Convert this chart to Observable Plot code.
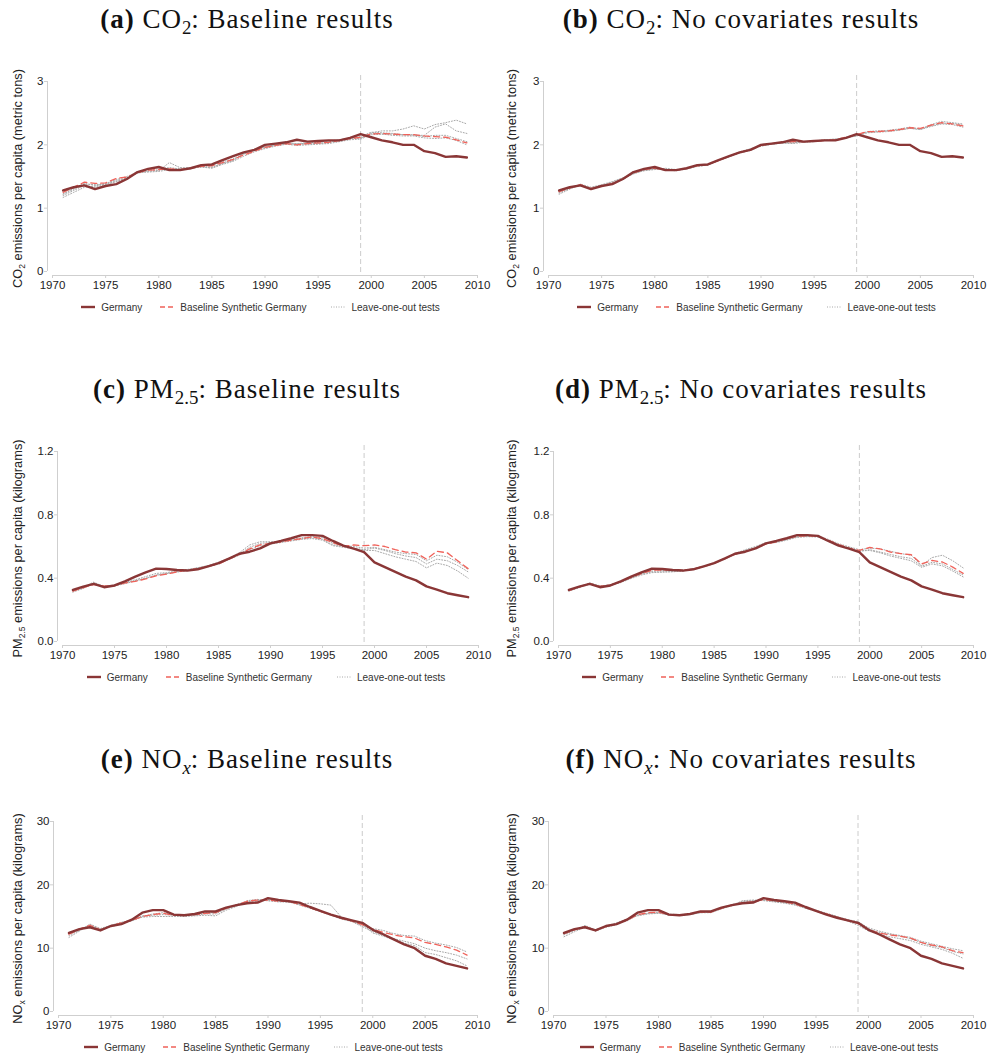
<!DOCTYPE html>
<html><head><meta charset="utf-8">
<script src="https://cdn.jsdelivr.net/npm/d3@7"></script>
<script src="https://cdn.jsdelivr.net/npm/@observablehq/plot@0.6"></script>
<style>
body{margin:0;background:#fff;}
#page{position:relative;width:988px;height:1054px;overflow:hidden;background:#fff;}
.panel{position:absolute;width:494px;height:370px;}
.title{position:absolute;left:0;top:6px;width:494px;text-align:center;font-family:"Liberation Serif","Times New Roman",serif;font-size:27px;line-height:27px;letter-spacing:1px;color:#111;white-space:nowrap;}
.title sub{font-size:70%;vertical-align:baseline;position:relative;top:0.3em;letter-spacing:0;}
.plot{position:absolute;left:0;top:60px;}
.legend{position:absolute;top:300px;height:14px;display:flex;justify-content:center;align-items:center;font-family:"Liberation Sans",Arial,sans-serif;font-size:10px;color:#333;white-space:nowrap;}
.item{display:flex;align-items:center;}
.item svg{margin-right:6px;}
</style></head>
<body><div id="page"></div>
<script>
// ---------- data ----------
const years = d3.range(1971, 2010);
const xDomain = [1970, 2010];
const xTicks = [1970, 1975, 1980, 1985, 1990, 1995, 2000, 2005, 2010];
const treatYear = 1999;

const yDomainCO2 = [0, 3];
const yTicksCO2 = [0, 1, 2, 3];
const yDomainPM = [0, 1.2];
const yTicksPM = [0, 0.4, 0.8, 1.2];
const yDomainNOx = [0, 30];
const yTicksNOx = [0, 10, 20, 30];

const legendLabels = ["Germany", "Baseline Synthetic Germany", "Leave-one-out tests"];

// CO2 (metric tons per capita)
const germanyCO2 = [1.28,1.33,1.36,1.30,1.35,1.38,1.46,1.57,1.62, 1.65,1.60,1.60,1.63,1.68,1.69,1.76,1.82,1.88,1.92, 2.00,2.02,2.04,2.08,2.05,2.06,2.07,2.07,2.11,2.17, 2.12,2.07,2.04,2.00,2.00,1.90,1.87,1.81,1.82,1.80];
const synthCO2a = [1.25,1.33,1.41,1.39,1.40,1.47,1.49,1.56,1.60, 1.61,1.62,1.61,1.63,1.66,1.67,1.72,1.77,1.84,1.90, 1.96,1.99,2.02,2.00,2.02,2.03,2.04,2.07,2.10,2.12, 2.17,2.18,2.17,2.16,2.16,2.14,2.13,2.12,2.08,2.03];
const looCO2a1 = [1.17,1.25,1.33,1.35,1.38,1.42,1.48,1.55,1.59, 1.59,1.72,1.64,1.63,1.65,1.64,1.71,1.76,1.85,1.92, 1.97,2.00,2.02,2.01,2.03,2.02,2.05,2.07,2.11,2.10, 2.19,2.22,2.22,2.25,2.30,2.25,2.32,2.35,2.39,2.33];
const looCO2a2 = [1.22,1.30,1.38,1.37,1.38,1.44,1.47,1.57,1.58, 1.60,1.63,1.62,1.62,1.66,1.65,1.70,1.75,1.87,1.93, 1.95,1.99,2.01,2.01,2.01,2.02,2.03,2.08,2.09,2.11, 2.18,2.17,2.17,2.16,2.15,2.15,2.28,2.33,2.22,2.18];
const looCO2a3 = [1.20,1.28,1.36,1.33,1.37,1.42,1.46,1.56,1.57, 1.58,1.61,1.63,1.64,1.65,1.63,1.69,1.74,1.82,1.89, 1.94,1.98,2.01,1.99,2.00,2.01,2.02,2.05,2.08,2.09, 2.16,2.17,2.15,2.14,2.14,2.11,2.10,2.11,2.07,2.00];
const looCO2a4 = [1.23,1.31,1.39,1.36,1.39,1.45,1.50,1.57,1.61, 1.62,1.64,1.62,1.64,1.67,1.68,1.73,1.78,1.86,1.91, 1.97,2.00,2.03,2.02,2.03,2.04,2.06,2.08,2.11,2.13, 2.20,2.19,2.18,2.16,2.16,2.13,2.15,2.15,2.10,2.05];
const synthCO2b = [1.26,1.32,1.37,1.31,1.35,1.39,1.46,1.56,1.61, 1.63,1.61,1.60,1.63,1.67,1.69,1.75,1.82,1.88,1.92, 1.99,2.02,2.04,2.05,2.05,2.06,2.07,2.08,2.12,2.16, 2.21,2.21,2.22,2.24,2.27,2.26,2.31,2.35,2.33,2.30];
const looCO2b1 = [1.22,1.30,1.38,1.33,1.37,1.42,1.48,1.55,1.59, 1.61,1.63,1.61,1.62,1.66,1.68,1.75,1.81,1.89,1.94, 1.98,2.01,2.03,2.03,2.05,2.06,2.08,2.09,2.12,2.14, 2.20,2.21,2.23,2.25,2.28,2.25,2.32,2.37,2.35,2.33];
const looCO2b2 = [1.24,1.31,1.36,1.32,1.36,1.41,1.47,1.54,1.60, 1.62,1.62,1.60,1.62,1.67,1.69,1.76,1.82,1.88,1.93, 1.99,2.01,2.03,2.02,2.04,2.06,2.08,2.09,2.11,2.14, 2.19,2.20,2.21,2.23,2.26,2.24,2.29,2.33,2.32,2.28];
const looCO2b3 = [1.25,1.33,1.37,1.31,1.35,1.40,1.45,1.55,1.60, 1.62,1.60,1.59,1.62,1.66,1.68,1.76,1.81,1.87,1.91, 1.98,2.01,2.03,2.04,2.04,2.05,2.07,2.08,2.11,2.15, 2.21,2.22,2.22,2.24,2.26,2.25,2.30,2.34,2.34,2.31];

// PM2.5 (kilograms per capita)
const germanyPM = [0.326,0.347,0.364,0.343,0.354,0.380,0.410,0.437,0.460, 0.458,0.452,0.448,0.456,0.475,0.495,0.524,0.554,0.567,0.588, 0.620,0.635,0.652,0.672,0.672,0.667,0.635,0.605,0.586,0.565, 0.500,0.470,0.440,0.410,0.386,0.348,0.328,0.305,0.292,0.280];
const synthPMc = [0.318,0.340,0.360,0.350,0.353,0.370,0.380,0.395,0.415, 0.425,0.440,0.450,0.460,0.475,0.490,0.520,0.550,0.585,0.610, 0.620,0.630,0.640,0.650,0.660,0.650,0.625,0.600,0.610,0.605, 0.610,0.600,0.580,0.565,0.560,0.520,0.570,0.560,0.510,0.460];
const looPMc1 = [0.315,0.345,0.375,0.345,0.350,0.372,0.390,0.410,0.430, 0.435,0.445,0.455,0.465,0.480,0.500,0.525,0.560,0.610,0.630, 0.630,0.630,0.640,0.650,0.655,0.645,0.610,0.600,0.590,0.580, 0.590,0.575,0.555,0.540,0.530,0.490,0.520,0.510,0.480,0.440];
const looPMc2 = [0.320,0.338,0.365,0.352,0.355,0.368,0.385,0.400,0.420, 0.430,0.442,0.452,0.466,0.478,0.495,0.522,0.552,0.595,0.620, 0.625,0.635,0.645,0.655,0.662,0.655,0.620,0.605,0.600,0.590, 0.595,0.580,0.565,0.555,0.550,0.510,0.545,0.535,0.500,0.455];
const looPMc3 = [0.312,0.335,0.370,0.348,0.350,0.365,0.382,0.398,0.418, 0.428,0.438,0.448,0.462,0.472,0.488,0.518,0.545,0.580,0.605, 0.615,0.625,0.635,0.645,0.650,0.640,0.605,0.595,0.585,0.575, 0.575,0.555,0.535,0.520,0.505,0.465,0.495,0.480,0.445,0.400];
const synthPMd = [0.322,0.345,0.365,0.348,0.356,0.378,0.405,0.430,0.450, 0.452,0.450,0.450,0.458,0.474,0.494,0.522,0.550,0.570,0.590, 0.615,0.630,0.650,0.665,0.668,0.665,0.640,0.612,0.590,0.575, 0.594,0.585,0.565,0.555,0.548,0.490,0.512,0.502,0.470,0.430];
const looPMd1 = [0.320,0.342,0.370,0.350,0.358,0.375,0.400,0.425,0.440, 0.440,0.440,0.445,0.460,0.476,0.496,0.525,0.555,0.580,0.600, 0.625,0.628,0.645,0.662,0.665,0.668,0.645,0.618,0.598,0.580, 0.590,0.585,0.570,0.555,0.545,0.480,0.530,0.545,0.510,0.465];
const looPMd2 = [0.318,0.340,0.362,0.346,0.354,0.372,0.398,0.420,0.435, 0.438,0.442,0.446,0.455,0.472,0.492,0.520,0.548,0.572,0.595, 0.620,0.625,0.640,0.658,0.662,0.660,0.635,0.610,0.585,0.570, 0.580,0.565,0.550,0.535,0.525,0.475,0.500,0.490,0.455,0.420];
const looPMd3 = [0.325,0.348,0.368,0.352,0.356,0.380,0.402,0.428,0.445, 0.448,0.446,0.448,0.456,0.475,0.495,0.523,0.552,0.575,0.592, 0.618,0.632,0.648,0.660,0.666,0.662,0.638,0.612,0.590,0.572, 0.575,0.560,0.540,0.525,0.510,0.468,0.490,0.478,0.445,0.408];

// NOx (kilograms per capita)
const germanyNOx = [12.4,13.0,13.3,12.8,13.5,13.8,14.5,15.6,16.0, 16.0,15.3,15.2,15.4,15.8,15.8,16.4,16.8,17.1,17.2, 17.9,17.6,17.4,17.2,16.5,15.9,15.3,14.8,14.4,14.0, 12.9,12.2,11.4,10.6,10.0,8.8,8.3,7.6,7.2,6.8];
const synthNOxe = [12.2,13.0,13.6,12.9,13.5,14.0,14.4,15.0,15.3, 15.5,15.2,15.2,15.3,15.5,15.6,16.3,16.8,17.4,17.6, 17.6,17.4,17.4,16.9,16.4,15.8,15.3,14.7,14.3,13.7, 13.0,12.5,12.1,11.8,11.6,10.9,10.6,10.2,9.7,8.9];
const looNOxe1 = [11.7,12.7,13.8,13.1,13.6,14.1,14.3,14.9,15.0, 15.0,15.0,15.0,15.1,15.2,15.1,16.0,16.6,17.5,17.7, 17.5,17.4,17.3,17.0,17.1,17.0,16.8,14.9,14.3,13.5, 13.1,12.8,12.3,12.0,11.9,11.2,10.8,10.5,10.1,9.4];
const looNOxe2 = [12.0,12.8,13.5,13.0,13.4,13.8,14.4,15.1,15.2, 15.3,15.2,15.2,15.2,15.4,15.4,16.2,16.7,17.3,17.5, 17.5,17.3,17.3,16.8,16.3,15.8,15.2,14.6,14.2,13.4, 12.6,12.0,11.5,11.1,10.7,10.0,9.6,9.3,8.9,8.3];
const looNOxe3 = [12.3,12.9,13.7,12.9,13.6,14.0,14.5,15.0,15.4, 15.6,15.3,15.3,15.3,15.6,15.6,16.3,16.9,17.4,17.6, 17.7,17.5,17.4,16.9,16.4,15.9,15.3,14.7,14.3,13.8, 12.4,11.9,11.3,10.8,10.4,9.3,9.0,8.5,8.0,7.2];
const synthNOxf = [12.3,12.9,13.4,12.8,13.4,13.8,14.4,15.3,15.6, 15.7,15.3,15.2,15.4,15.7,15.7,16.3,16.8,17.2,17.3, 17.7,17.5,17.3,17.0,16.4,15.9,15.4,14.9,14.4,13.9, 12.9,12.4,12.1,11.9,11.6,10.9,10.5,10.2,9.6,9.3];
const looNOxf1 = [11.8,12.6,13.3,12.9,13.5,14.0,14.6,15.1,15.4, 15.5,15.3,15.2,15.3,15.6,15.6,16.2,16.7,17.5,17.6, 17.5,17.3,17.1,16.8,16.3,15.9,15.5,15.0,14.5,14.2, 13.2,12.7,12.3,12.0,11.7,11.1,10.7,10.3,9.9,9.6];
const looNOxf2 = [12.1,12.8,13.6,12.9,13.4,13.9,14.5,15.2,15.5, 15.6,15.2,15.2,15.3,15.6,15.7,16.3,16.8,17.4,17.5, 17.6,17.4,17.2,16.9,16.3,15.8,15.3,14.8,14.3,13.6, 12.7,12.2,11.8,11.5,11.2,10.6,10.2,9.8,9.2,8.4];
const looNOxf3 = [12.2,13.0,13.4,12.7,13.3,13.7,14.3,15.2,15.5, 15.6,15.4,15.3,15.4,15.7,15.8,16.4,16.9,17.3,17.4, 17.6,17.4,17.2,17.0,16.5,16.0,15.5,15.0,14.5,14.0, 13.0,12.5,12.2,11.9,11.5,10.9,10.4,10.1,9.5,9.1];

// ---------- styling ----------
const cGermany = "#8a3636";
const cSynth = "#f0625a";
const cLoo = "#a8a8a8";
const cAxis = "#cfcfcf";

const fmtInt = d => String(d);
const fmt1 = d3.format(".1f");

const labelCO2 = ["CO", "2", " emissions per capita (metric tons)"];
const labelPM = ["PM", "2.5", " emissions per capita (kilograms)"];
const labelNOx = ["NO", "x", " emissions per capita (kilograms)"];

const panels = [
  {col:0,row:0,title:'<b>(a)</b> CO<sub>2</sub>: Baseline results', ylab:labelCO2, g:germanyCO2, s:synthCO2a, loo:[looCO2a1,looCO2a2,looCO2a3,looCO2a4], yd:yDomainCO2, yt:yTicksCO2, fmt:fmtInt, ml:47, mr:17},
  {col:1,row:0,title:'<b>(b)</b> CO<sub>2</sub>: No covariates results', ylab:labelCO2, g:germanyCO2, s:synthCO2b, loo:[looCO2b1,looCO2b2,looCO2b3], yd:yDomainCO2, yt:yTicksCO2, fmt:fmtInt, ml:49, mr:15},
  {col:0,row:1,title:'<b>(c)</b> PM<sub>2.5</sub>: Baseline results', ylab:labelPM, g:germanyPM, s:synthPMc, loo:[looPMc1,looPMc2,looPMc3], yd:yDomainPM, yt:yTicksPM, fmt:fmt1, ml:57, mr:16},
  {col:1,row:1,title:'<b>(d)</b> PM<sub>2.5</sub>: No covariates results', ylab:labelPM, g:germanyPM, s:synthPMd, loo:[looPMd1,looPMd2,looPMd3], yd:yDomainPM, yt:yTicksPM, fmt:fmt1, ml:59, mr:15},
  {col:0,row:2,title:'<b>(e)</b> NO<sub><i>x</i></sub>: Baseline results', ylab:labelNOx, g:germanyNOx, s:synthNOxe, loo:[looNOxe1,looNOxe2,looNOxe3], yd:yDomainNOx, yt:yTicksNOx, fmt:fmtInt, ml:53, mr:17},
  {col:1,row:2,title:'<b>(f)</b> NO<sub><i>x</i></sub>: No covariates results', ylab:labelNOx, g:germanyNOx, s:synthNOxf, loo:[looNOxf1,looNOxf2,looNOxf3], yd:yDomainNOx, yt:yTicksNOx, fmt:fmtInt, ml:54, mr:15}
];

const page = document.getElementById("page");
const W = 494, H = 245;

function swatch(color, width, dash) {
  return `<svg width="14" height="6"><line x1="0" y1="3" x2="14" y2="3" stroke="${color}" stroke-width="${width}" ${dash ? `stroke-dasharray="${dash}"` : ""}/></svg>`;
}

panels.forEach(p => {
  const div = document.createElement("div");
  div.className = "panel";
  div.style.left = (p.col * 494) + "px";
  div.style.top = (p.row * 370) + "px";
  page.appendChild(div);

  const t = document.createElement("div");
  t.className = "title";
  t.innerHTML = p.title;
  div.appendChild(t);

  const gData = years.map((y, i) => ({year: y, value: p.g[i]}));
  const sData = years.map((y, i) => ({year: y, value: p.s[i]}));
  const lData = p.loo.flatMap((arr, k) => years.map((y, i) => ({year: y, value: arr[i], series: k})));
  const labelText = p.ylab.join("");

  const svg = Plot.plot({
    width: W, height: H,
    marginTop: 21, marginBottom: 30, marginLeft: p.ml, marginRight: p.mr,
    x: {domain: xDomain, insetLeft: 5},
    y: {domain: p.yd, insetBottom: 4},
    style: {fontFamily: "'Liberation Sans', Arial, sans-serif", fontSize: "11.5px", color: "#222", background: "transparent", overflow: "visible"},
    marks: [
      Plot.ruleY([p.yd[0]], {x1: xDomain[0], x2: xDomain[1], dy: 4, stroke: cAxis}),
      Plot.ruleX([xDomain[0]], {y1: p.yd[0], y2: p.yd[1], dx: -5, stroke: cAxis}),
      Plot.axisX({ticks: xTicks, tickFormat: fmtInt, tickSize: 3, tickPadding: 2, stroke: cAxis, fill: "#222", label: null}),
      Plot.axisY({ticks: p.yt, tickFormat: p.fmt, tickSize: 3, tickPadding: 1, stroke: cAxis, fill: "#222",
                  label: labelText, labelAnchor: "center", labelOffset: p.ml - 12, labelArrow: "none"}),
      Plot.ruleX([treatYear], {stroke: "#cccccc", strokeWidth: 1, strokeDasharray: "5,3", insetTop: -6}),
      Plot.line(lData, {x: "year", y: "value", z: "series", stroke: cLoo, strokeWidth: 1, strokeDasharray: "1,1.8"}),
      Plot.line(sData, {x: "year", y: "value", stroke: cSynth, strokeWidth: 1.3, strokeDasharray: "6,4"}),
      Plot.line(gData, {x: "year", y: "value", stroke: cGermany, strokeWidth: 2.4})
    ]
  });
  svg.classList.add("plot");
  div.appendChild(svg);

  // larger y-axis label with a subscript
  svg.querySelectorAll("text").forEach(el => {
    if (el.textContent === labelText) {
      el.setAttribute("font-size", "12.8");
      el.innerHTML = `${p.ylab[0]}<tspan font-size="8.5" dy="3">${p.ylab[1]}</tspan><tspan dy="-3">${p.ylab[2]}</tspan>`;
    }
  });

  const plotLeft = p.ml + 5, plotRight = W - p.mr;
  const lg = document.createElement("div");
  lg.className = "legend";
  lg.style.left = (plotLeft - 4) + "px";
  lg.style.width = (plotRight - plotLeft) + "px";
  lg.innerHTML =
    `<div class="item" style="margin-right:18px">${swatch(cGermany, 2.4)}<span>${legendLabels[0]}</span></div>` +
    `<div class="item" style="margin-right:25px">${swatch(cSynth, 1.3, "5,3")}<span>${legendLabels[1]}</span></div>` +
    `<div class="item">${swatch(cLoo, 1, "1,1.5")}<span>${legendLabels[2]}</span></div>`;
  div.appendChild(lg);
});
</script>
</body></html>
